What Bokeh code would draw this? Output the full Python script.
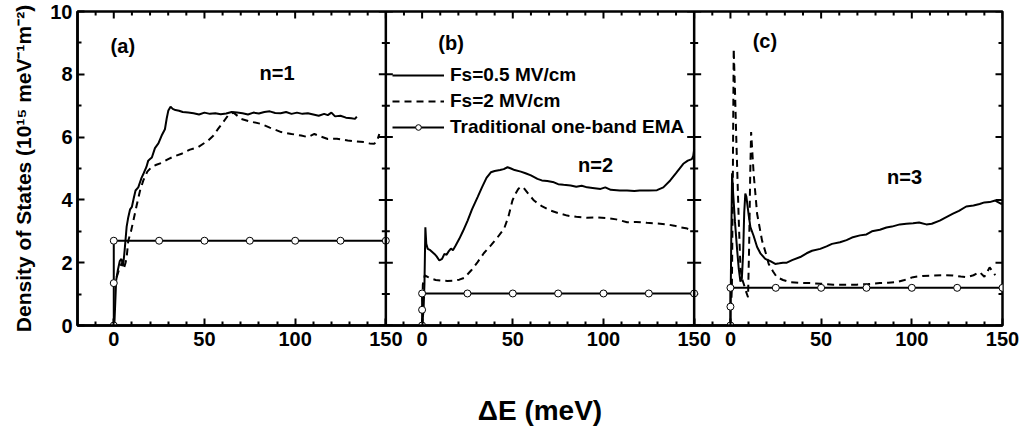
import math
from bokeh.plotting import figure
from bokeh.models import (ColumnDataSource, FixedTicker, Legend, LegendItem, Span, Range1d)
from bokeh.transform import dodge
from bokeh.core.properties import value
from bokeh.embed import file_html
from bokeh.resources import INLINE

FONT = "Liberation Sans"

# ---------------- data (meV, 1e15 meV^-1 m^-2) ----------------
# panel (a)  n=1
a_x_05 = [0.3, 0.8, 1.3, 2.2, 3.3, 4.2, 5.2, 6.0, 7.1, 8.0, 9.0, 10.0, 11.0, 12.0, 13.5, 15.3,
          16.5, 18.0, 19.0, 20.0, 21.0, 22.7, 24.6, 26.4, 28.2, 29.2, 30.1, 31.3, 32.5, 34, 36,
          38, 41, 44, 47, 50, 53, 56, 59, 62, 65, 68, 71, 74, 77, 80, 83, 86, 89, 92, 95, 98,
          101, 104, 107, 110, 113, 116, 118, 120, 122, 125, 128, 131, 133, 134]
a_y_05 = [0.0, 0.7, 1.43, 1.75, 2.05, 2.12, 1.92, 2.4, 3.15, 3.45, 3.7, 3.78, 4.05, 4.3, 4.4,
          4.7, 4.85, 5.05, 5.25, 5.3, 5.35, 5.65, 5.8, 6.05, 6.25, 6.6, 6.85, 6.97, 6.9, 6.86,
          6.84, 6.8, 6.78, 6.76, 6.72, 6.78, 6.74, 6.76, 6.73, 6.75, 6.8, 6.78, 6.76, 6.72,
          6.78, 6.75, 6.8, 6.82, 6.77, 6.76, 6.8, 6.74, 6.78, 6.74, 6.76, 6.72, 6.68, 6.74,
          6.7, 6.78, 6.66, 6.68, 6.62, 6.6, 6.58, 6.65]
a_x_2 = [1.6, 3.0, 4.5, 5.5, 6.5, 7.1, 8.0, 9.5, 10.8, 12.6, 14.5, 16.3, 18.5, 20.9, 23.5,
         26.4, 30, 33, 37.4, 42, 46.5, 52, 55, 57.5, 60, 63, 66, 70.3, 75, 81.3, 86, 92.3, 98,
         103.3, 107, 110.6, 114, 118, 123, 129, 134, 138, 141, 143.6, 145, 146.4]
a_y_2 = [1.54, 1.8, 2.0, 1.8, 2.0, 2.17, 2.7, 3.0, 3.34, 3.82, 4.3, 4.62, 4.9, 5.05, 5.12,
         5.18, 5.3, 5.38, 5.47, 5.6, 5.68, 5.89, 6.05, 6.26, 6.45, 6.69, 6.78, 6.58, 6.5, 6.42,
         6.3, 6.16, 6.1, 6.05, 6.0, 6.1, 6.02, 5.94, 5.95, 5.89, 5.86, 5.84, 5.8, 5.79, 5.85,
         6.1]

# panel (b)  n=2
b_x_05 = [0, 0.8, 1.3, 1.8, 2.3, 3.1, 4.5, 6.8, 8.0, 9.5, 11, 12.3, 13.5, 14.5, 15.9, 17,
          18.5, 20.5, 22.5, 25.1, 27.5, 30.6, 33, 35.5, 37.9, 40, 43, 45, 47.1, 49, 51, 54.4,
          57, 60, 63.6, 66, 69, 72.7, 75, 78, 81.9, 85, 88, 91, 94, 98.4, 101, 104, 109, 113,
          117, 120, 125, 129.5, 133, 136.8, 140, 144, 146.5, 148.7, 149.5, 150]
b_y_05 = [0, 0.5, 1.33, 3.13, 2.6, 2.44, 2.4, 2.28, 2.2, 2.07, 2.12, 2.28, 2.25, 2.35, 2.45,
          2.4, 2.55, 2.76, 3.0, 3.34, 3.7, 4.09, 4.4, 4.7, 4.88, 4.92, 4.95, 4.98, 5.04, 5.0,
          4.95, 4.9, 4.85, 4.78, 4.67, 4.62, 4.6, 4.56, 4.5, 4.48, 4.46, 4.42, 4.45, 4.4, 4.38,
          4.35, 4.4, 4.32, 4.3, 4.3, 4.28, 4.3, 4.3, 4.31, 4.4, 4.62, 4.85, 5.15, 5.25, 5.3,
          5.4, 5.6]
b_x_2 = [0, 0.4, 1.5, 3, 5, 7.5, 10.4, 14, 17.7, 20.5, 23.3, 27, 30.6, 34, 37.9, 41.5, 45.2,
         47.5, 49.8, 51.5, 53, 54.4, 56, 58.5, 61.7, 66, 70.9, 75, 80, 85, 91, 96, 102, 107,
         113, 118, 124, 130, 135, 139, 142.3, 145.5, 148.7, 150]
b_y_2 = [0, 1.3, 1.6, 1.55, 1.49, 1.45, 1.43, 1.42, 1.43, 1.46, 1.52, 1.75, 2.02, 2.3, 2.55,
         2.8, 3.08, 3.45, 3.98, 4.2, 4.35, 4.42, 4.38, 4.2, 3.98, 3.8, 3.66, 3.58, 3.5, 3.46,
         3.43, 3.44, 3.42, 3.38, 3.29, 3.3, 3.27, 3.25, 3.22, 3.18, 3.13, 3.1, 3.03, 3.0]

# panel (c)  n=3
c_x_05 = [0, 0.4, 0.9, 1.5, 2.5, 3.7, 4.6, 5.5, 6.3, 7.0, 7.6, 8.2, 8.8, 10.1, 11.0, 12.8,
          14.7, 16.5, 19.2, 22, 24.7, 27, 29, 31.1, 34, 38.5, 42, 45, 49.5, 53, 56, 60.4, 64,
          67, 71.4, 75, 78, 82.4, 86, 89, 93.4, 97, 100.7, 104, 108, 111, 115.4, 118, 122.7,
          126, 130, 134, 137.4, 140, 142.9, 146, 149.3, 150]
c_y_05 = [0, 2.5, 4.85, 4.2, 3.3, 2.4, 1.8, 1.4, 1.5, 2.3, 3.6, 4.2, 4.1, 3.5, 3.13, 2.85,
          2.5, 2.3, 2.12, 2.05, 1.96, 1.98, 2.0, 2.0, 2.08, 2.18, 2.3, 2.38, 2.44, 2.52, 2.6,
          2.65, 2.72, 2.8, 2.87, 2.9, 3.0, 3.05, 3.12, 3.15, 3.22, 3.24, 3.26, 3.28, 3.22, 3.24,
          3.34, 3.42, 3.56, 3.65, 3.79, 3.82, 3.87, 3.92, 3.93, 3.98, 3.87, 3.9]
c_x_2 = [0.3, 0.8, 1.3, 1.8, 2.5, 3.2, 3.7, 4.5, 5.5, 6.3, 7.3, 8.5, 9.7, 10.3, 10.9, 11.4,
         12.2, 12.8, 14.7, 17.4, 19.5, 21.1, 23.5, 25.6, 29, 33, 38, 44, 50, 56.8, 63, 69.6,
         76, 82.4, 87, 91.6, 96, 100.7, 106, 111.7, 117, 122.7, 127, 130, 134, 137.4, 140,
         142.9, 146]
c_y_2 = [0.5, 1.2, 4.5, 8.81, 7.5, 6.0, 5.04, 3.5, 1.86, 1.5, 1.33, 1.1, 0.9, 2.5, 4.8, 6.16,
         5.4, 4.83, 3.56, 2.71, 2.3, 1.96, 1.72, 1.54, 1.45, 1.38, 1.36, 1.35, 1.33, 1.3, 1.3,
         1.3, 1.32, 1.35, 1.36, 1.38, 1.45, 1.54, 1.58, 1.59, 1.6, 1.59, 1.56, 1.54, 1.6, 1.7,
         1.55, 1.85, 1.6]

# traditional one-band EMA (step DOS)
ema_x = [0, 0, 0, 25, 50, 75, 100, 125, 150]
ema_a_y = [0, 1.35, 2.7, 2.7, 2.7, 2.7, 2.7, 2.7, 2.7]
ema_b_y = [0, 0.5, 1.02, 1.02, 1.02, 1.02, 1.02, 1.02, 1.02]
ema_c_y = [0, 0.6, 1.2, 1.2, 1.2, 1.2, 1.2, 1.2, 1.2]

# axis ticks (per panel, local meV)
x_major_local = [0, 50, 100, 150]
x_minor_local = [-10, 10, 20, 30, 40, 60, 70, 80, 90, 110, 120, 130, 140]
y_major = [0, 2, 4, 6, 8, 10]
y_minor = [1, 3, 5, 7, 9]

panel_tags = ["(a)", "(b)", "(c)"]
tag_x = [5, 16, 19]
tag_y = [8.9, 9.0, 9.05]
n_labels = ["n=1", "n=2", "n=3"]
n_x = [90, 95.6, 96]
n_y = [8.04, 5.1, 4.72]

SHIFT = 170          # each panel occupies [-20, 150] meV, stacked on one shared axis
LO, HI = -20, 150
N_PANELS = 3
Y_TOP = 10
MAJ, MIN = 7, 4      # tick lengths (px)

# ---------------- figure ----------------
p = figure(width=1026, height=436, output_backend="svg", toolbar_location=None,
           x_range=Range1d(LO, HI + SHIFT * (N_PANELS - 1)), y_range=Range1d(0, Y_TOP),
           min_border_left=77, min_border_right=24, min_border_top=11, min_border_bottom=111)
p.grid.visible = False
p.background_fill_color = "white"
p.outline_line_color = "black"
p.outline_line_width = 2.5

x_major = [t + i * SHIFT for i in range(N_PANELS) for t in x_major_local]
x_minor = [t + i * SHIFT for i in range(N_PANELS) for t in x_minor_local]
x_labels = {t + i * SHIFT: str(t) for i in range(N_PANELS) for t in x_major_local}
xticker = FixedTicker(ticks=x_major, minor_ticks=x_minor)
yticker = FixedTicker(ticks=y_major, minor_ticks=y_minor)


def style_axis(ax):
    ax.axis_line_color = "black"
    ax.axis_line_width = 2.5
    ax.major_tick_in = MAJ
    ax.major_tick_out = 0
    ax.minor_tick_in = MIN
    ax.minor_tick_out = 0
    ax.major_tick_line_width = 2
    ax.minor_tick_line_width = 2
    ax.major_tick_line_color = "black"
    ax.minor_tick_line_color = "black"
    ax.major_label_text_font = FONT
    ax.major_label_text_font_style = "bold"
    ax.major_label_text_font_size = "20px"
    ax.major_label_text_color = "black"
    ax.axis_label_text_font = FONT
    ax.axis_label_text_font_style = "bold"
    ax.axis_label_text_color = "black"


xa = p.xaxis[0]
xa.ticker = xticker
xa.major_label_overrides = x_labels
style_axis(xa)
xa.major_label_standoff = 6
xa.axis_label = "ΔE (meV)"
xa.axis_label_text_font_size = "28px"
xa.axis_label_standoff = 46

ya = p.yaxis[0]
ya.ticker = yticker
style_axis(ya)
ya.major_label_standoff = 5
ya.axis_label = "Density of States (10¹⁵ meV⁻¹m⁻²)"
ya.axis_label_text_font_size = "21px"
ya.axis_label_standoff = 12

# inward ticks on the top edge, right edge and the inner panel borders
TICK_KW = dict(length_units="screen", line_color="black", line_width=2)
x_right = HI + SHIFT * (N_PANELS - 1)
p.ray(x=x_major, y=[Y_TOP] * len(x_major), length=MAJ, angle=-math.pi / 2, **TICK_KW)
p.ray(x=x_minor, y=[Y_TOP] * len(x_minor), length=MIN, angle=-math.pi / 2, **TICK_KW)
p.ray(x=[x_right] * len(y_major), y=y_major, length=MAJ, angle=math.pi, **TICK_KW)
p.ray(x=[x_right] * len(y_minor), y=y_minor, length=MIN, angle=math.pi, **TICK_KW)
for i in range(1, N_PANELS):
    edge = HI + (i - 1) * SHIFT
    p.add_layout(Span(location=edge, dimension="height", line_color="black", line_width=2.5))
    for ang in (0, math.pi):
        p.ray(x=[edge] * len(y_major), y=y_major, length=MAJ, angle=ang, **TICK_KW)
        p.ray(x=[edge] * len(y_minor), y=y_minor, length=MIN, angle=ang, **TICK_KW)

panels = [
    (a_x_05, a_y_05, a_x_2, a_y_2, ema_a_y),
    (b_x_05, b_y_05, b_x_2, b_y_2, ema_b_y),
    (c_x_05, c_y_05, c_x_2, c_y_2, ema_c_y),
]
leg_r = None
for i, (x05, y05, x2, y2, emay) in enumerate(panels):
    off = i * SHIFT
    s05 = ColumnDataSource(dict(x=x05, y=y05))
    s2 = ColumnDataSource(dict(x=x2, y=y2))
    se = ColumnDataSource(dict(x=ema_x, y=emay))
    r05 = p.line(x=dodge("x", off), y="y", source=s05, line_color="black", line_width=2)
    r2 = p.line(x=dodge("x", off), y="y", source=s2, line_color="black", line_width=2,
                line_dash="7 5")
    rel = p.line(x=dodge("x", off), y="y", source=se, line_color="black", line_width=2)
    rep = p.scatter(x=dodge("x", off), y="y", source=se, marker="circle", size=7,
                    fill_color="white", line_color="black", line_width=1)
    if leg_r is None:
        leg_r = (r05, r2, rel, rep)

txt = ColumnDataSource(dict(
    x=[tag_x[i] + i * SHIFT for i in range(N_PANELS)] + [n_x[i] + i * SHIFT for i in range(N_PANELS)],
    y=tag_y + n_y,
    t=panel_tags + n_labels))
p.text(x="x", y="y", text="t", source=txt, text_font=value(FONT), text_font_style="bold",
       text_font_size="20px", text_align="center", text_baseline="middle", text_color="black")

legend = Legend(items=[
    LegendItem(label="Fs=0.5 MV/cm", renderers=[leg_r[0]]),
    LegendItem(label="Fs=2 MV/cm", renderers=[leg_r[1]]),
    LegendItem(label="Traditional one-band EMA", renderers=[leg_r[2], leg_r[3]]),
], location=(315, 185), padding=0, margin=0, spacing=0, glyph_width=52, glyph_height=14,
    label_height=26, label_standoff=6, background_fill_alpha=0, border_line_alpha=0,
    label_text_font=FONT, label_text_font_style="bold", label_text_font_size="19px",
    label_text_color="black")
p.add_layout(legend)

open("out.html", "w").write(file_html(p, INLINE))
